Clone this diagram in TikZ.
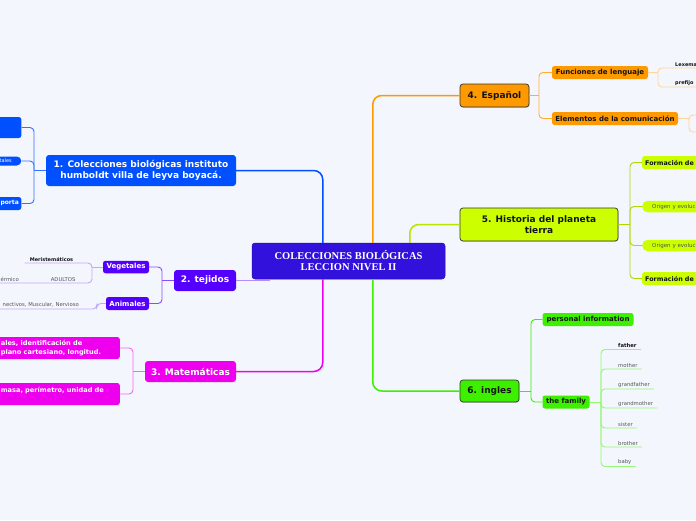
\documentclass[tikz,border=0pt]{standalone}
\usepackage{fontspec}
\setmainfont{DejaVu Sans}
\newfontfamily\hubserif{Liberation Serif}
\usetikzlibrary{calc,shadows}
\definecolor{paperBlue}{RGB}{243,246,253}
\definecolor{hubViolet}{RGB}{51,17,221}
\definecolor{bioBlue}{RGB}{0,80,255}
\definecolor{tejViolet}{RGB}{85,0,255}
\definecolor{matMagenta}{RGB}{238,0,238}
\definecolor{espOrange}{RGB}{255,153,0}
\definecolor{histLime}{RGB}{204,255,0}
\definecolor{ingGreen}{RGB}{60,240,0}
\definecolor{leafGrey}{RGB}{85,85,85}
\definecolor{inkDark}{RGB}{20,20,20}
\tikzset{
  hubbox/.style={fill=hubViolet,draw=hubViolet!75!black,line width=0.5pt,rounded corners=3pt,
    text=white,align=center,inner sep=0pt,font=\hubserif\bfseries\fontsize{10.5}{11}\selectfont},
  topic/.style={fill=#1,rounded corners=3pt,inner sep=0pt,align=center,text=white,
    font=\bfseries\fontsize{9}{11}\selectfont},
  framedtopic/.style={topic=#1,text=inkDark,draw=black!80,line width=0.7pt,
    drop shadow={shadow xshift=0.6pt,shadow yshift=-0.9pt,opacity=0.3}},
  subtopic/.style={fill=#1,rounded corners=2.5pt,inner sep=0pt,text=white,
    font=\bfseries\fontsize{7}{8.4}\selectfont},
  stub/.style={fill=#1,rounded corners=2.5pt,anchor=east,align=right,inner ysep=0pt,text=white},
  leaf/.style={inner xsep=4pt,inner ysep=1.5pt,text=leafGrey,font=\fontsize{5.3}{6.4}\selectfont},
  branch/.style={draw=#1,line width=1.5pt,rounded corners=9pt},
  twig/.style={draw=#1,line width=0.9pt,rounded corners=4pt},
}
\begin{document}
\begin{tikzpicture}[x=1pt,y=-1pt]
\fill[paperBlue] (0,0) rectangle (696,520);
\useasboundingbox (0,0) rectangle (696,520);

% centre
\node[hubbox,minimum width=193pt,minimum height=36pt] (hub) at (348.5,261)
  {COLECCIONES BIOLÓGICAS\\LECCION NIVEL II};

% main topics
\node[topic=bioBlue,minimum width=190pt,minimum height=31pt] (bio) at (141,170.5)
  {1. Colecciones biológicas instituto\\humboldt villa de leyva boyacá.};
\node[topic=tejViolet,minimum width=62pt,minimum height=21pt] (tej) at (205,280.5) {2. tejidos};
\node[topic=matMagenta,minimum width=91pt,minimum height=21pt] (mat) at (190.5,371.5) {3. Matemáticas};
\node[framedtopic=espOrange,minimum width=69pt,minimum height=23pt] (esp) at (494.5,95.5) {4. Español};
\node[framedtopic=histLime,minimum width=158pt,minimum height=33pt] (his) at (539,224.5)
  {5. Historia del planeta\\tierra};
\node[framedtopic=ingGreen,minimum width=59pt,minimum height=22pt] (ing) at (489.5,391) {6. ingles};

\coordinate (hBio) at ($(hub.north west)+(71,0)$);
\coordinate (hEsp) at ($(hub.north west)+(121,0)$);
\coordinate (hHis) at ($(hub.north west)+(158,0)$);
\coordinate (hMat) at ($(hub.south west)+(71,0)$);
\coordinate (hIng) at ($(hub.south west)+(121,0)$);
\coordinate (hTej) at ($(hub.south west)+(18,0)$);

\draw[branch=bioBlue] (hBio) |- (bio.east);
\draw[branch=espOrange] (hEsp) |- (esp.west);
\draw[branch=histLime!90!black] (hHis) |- (his.west);
\draw[branch=matMagenta] (hMat) |- (mat.east);
\draw[branch=ingGreen] (hIng) |- (ing.west);
\draw[twig=tejViolet!45] (tej.east) -- (tej.east -| hTej);

% 1. colecciones
\node[stub=bioBlue,minimum height=21pt,text width=50pt,inner xsep=5pt] (bioA) at (21.5,127.5) {};
\node[stub=bioBlue,rounded corners=4.5pt,minimum height=9pt,text width=21pt,inner xsep=9.5pt,
  font=\fontsize{5}{6}\selectfont] (bioB) at (21.5,161) {tales};
\node[stub=bioBlue,minimum height=13pt,text width=30pt,inner xsep=2.5pt,
  font=\bfseries\fontsize{6}{7.2}\selectfont] (bioC) at (21.5,203.5) {porta};
\coordinate (jBio) at (34,170.5);
\draw[twig=bioBlue!80] (bio.west) -- (jBio);
\foreach \c in {bioA,bioB,bioC}
  \draw[twig=bioBlue!80] (jBio) |- (\c.east);

% 2. tejidos
\node[subtopic=tejViolet,minimum width=46pt,minimum height=12.5pt] (veg) at (126,267) {Vegetales};
\node[subtopic=tejViolet,minimum width=43pt,minimum height=13pt] (ani) at (127.5,303.5) {Animales};
\coordinate (jTej) at (162,280.5);
\draw[twig=tejViolet!70] (tej.west) -- (jTej);
\draw[twig=tejViolet!70] (jTej) |- (veg.east);
\draw[twig=tejViolet!70] (jTej) |- (ani.east);

\node[leaf,anchor=south east,text width=57pt,inner xsep=5pt,align=left,text=inkDark,
  font=\bfseries\fontsize{5}{6}\selectfont] (meri) at (92,263) {Meristemáticos};
\node[leaf,anchor=south east,text width=36pt,inner xsep=5pt,align=left] (adul) at (92,283) {ADULTOS};
\node[leaf,anchor=south east] (epi) at (23,283) {érmico};
\node[leaf,anchor=south east] (conn) at (83,309) {nectivos, Muscular, Nervioso};
\coordinate (jVeg) at (92,267);
\draw[twig=tejViolet!35] (veg.west) -- (jVeg);
\draw[twig=tejViolet!35] (jVeg) |- (meri.south west);
\draw[twig=tejViolet!35] (jVeg) |- (epi.south west);
\draw[twig=tejViolet!35] (ani.west) -- ++(-9,0) |- (conn.south west);

% 3. matematicas
\node[stub=matMagenta,align=left,minimum height=22pt,text width=110pt,inner xsep=9pt,
  font=\bfseries\fontsize{6.6}{8.3}\selectfont] (matA) at (120,348)
  {ales, identificación de\\plano cartesiano, longitud.};
\node[stub=matMagenta,align=left,minimum height=22pt,text width=110pt,inner xsep=9pt,
  text height=5.5pt,text depth=9.5pt,font=\bfseries\fontsize{6.6}{8.3}\selectfont] (matB) at (120,394)
  {masa, perímetro, unidad de};
\coordinate (jMat) at (133,371.5);
\draw[twig=matMagenta!60] (mat.west) -- (jMat);
\draw[twig=matMagenta!60] (jMat) |- (matA.east);
\draw[twig=matMagenta!60] (jMat) |- (matB.east);

% 4. espanol
\node[subtopic=espOrange,text=inkDark,minimum width=96pt,minimum height=13pt] (fun) at (600,72.5)
  {Funciones de lenguaje};
\node[subtopic=espOrange,text=inkDark,minimum width=126pt,minimum height=13pt] (ele) at (615,118.5)
  {Elementos de la comunicación};
\coordinate (jEsp) at (539,95.5);
\draw[twig=espOrange!80] (esp.east) -- (jEsp);
\draw[twig=espOrange!80] (jEsp) |- (fun.west);
\draw[twig=espOrange!80] (jEsp) |- (ele.west);

\node[leaf,anchor=south west,text=inkDark,font=\bfseries\fontsize{5}{6}\selectfont] (lex) at (671,68) {Lexema};
\node[leaf,anchor=south west,text=inkDark,font=\bfseries\fontsize{5}{6}\selectfont] (pre) at (671,87) {prefijo};
\coordinate (jFun) at (658,72.5);
\draw[twig=espOrange!40] (fun.east) -- (jFun);
\draw[twig=espOrange!40] (jFun) |- (lex.south east);
\draw[twig=espOrange!40] (jFun) |- (pre.south east);
\coordinate (jEle) at (689,118.5);
\coordinate (eleA) at (702,115);
\coordinate (eleB) at (702,132);
\draw[twig=espOrange!40] (ele.east) -- (jEle);
\draw[twig=espOrange!40] (jEle) |- (eleA);
\draw[twig=espOrange!40] (jEle) |- (eleB);

% 5. historia
\node[subtopic=histLime,text=inkDark,anchor=west,align=left,text width=60pt,inner xsep=3pt,
  minimum height=13pt,font=\bfseries\fontsize{6.4}{7.7}\selectfont] (forA) at (642,162.5) {Formación de};
\node[subtopic=histLime,text=leafGrey,anchor=west,align=left,text width=60pt,inner xsep=10pt,
  minimum height=11.5pt,rounded corners=5.5pt,font=\fontsize{5.5}{6.6}\selectfont] (oriA) at (642,206.5)
  {Origen y evoluc};
\node[subtopic=histLime,text=leafGrey,anchor=west,align=left,text width=60pt,inner xsep=10pt,
  minimum height=11.5pt,rounded corners=5.5pt,font=\fontsize{5.5}{6.6}\selectfont] (oriB) at (642,245.5)
  {Origen y evoluc};
\node[subtopic=histLime,text=inkDark,anchor=west,align=left,text width=60pt,inner xsep=3pt,
  minimum height=13pt,font=\bfseries\fontsize{6.4}{7.7}\selectfont] (forB) at (642,278.5) {Formación de};
\coordinate (jHis) at (630,224.5);
\draw[twig=histLime!85!black] (his.east) -- (jHis);
\foreach \c in {forA,oriA,oriB,forB}
  \draw[twig=histLime!85!black] (jHis) |- (\c.west);

% 6. ingles
\node[subtopic=ingGreen,text=inkDark,minimum width=91pt,minimum height=13pt] (per) at (588,319.5)
  {personal information};
\node[subtopic=ingGreen,text=inkDark,minimum width=47pt,minimum height=13pt] (fam) at (566,402)
  {the family};
\coordinate (jIng) at (531,391);
\draw[twig=ingGreen] (ing.east) -- (jIng);
\draw[twig=ingGreen] (jIng) |- (per.west);
\draw[twig=ingGreen] (jIng) |- (fam.west);

\node[leaf,anchor=south west,text=inkDark,font=\bfseries\fontsize{5.3}{6.4}\selectfont] (fa) at (614,349.5) {father};
\node[leaf,anchor=south west] (mo) at (614,369) {mother};
\node[leaf,anchor=south west] (gf) at (614,389) {grandfather};
\node[leaf,anchor=south west] (gm) at (614,408) {grandmother};
\node[leaf,anchor=south west] (si) at (614,428) {sister};
\node[leaf,anchor=south west] (br) at (614,447) {brother};
\node[leaf,anchor=south west] (ba) at (614,466.5) {baby};
\coordinate (jFam) at (601,402);
\draw[twig=ingGreen!55] (fam.east) -- (jFam);
\foreach \c in {fa,mo,gf,gm,si,br,ba}
  \draw[twig=ingGreen!55] (jFam) |- (\c.south east);
\end{tikzpicture}
\end{document}
